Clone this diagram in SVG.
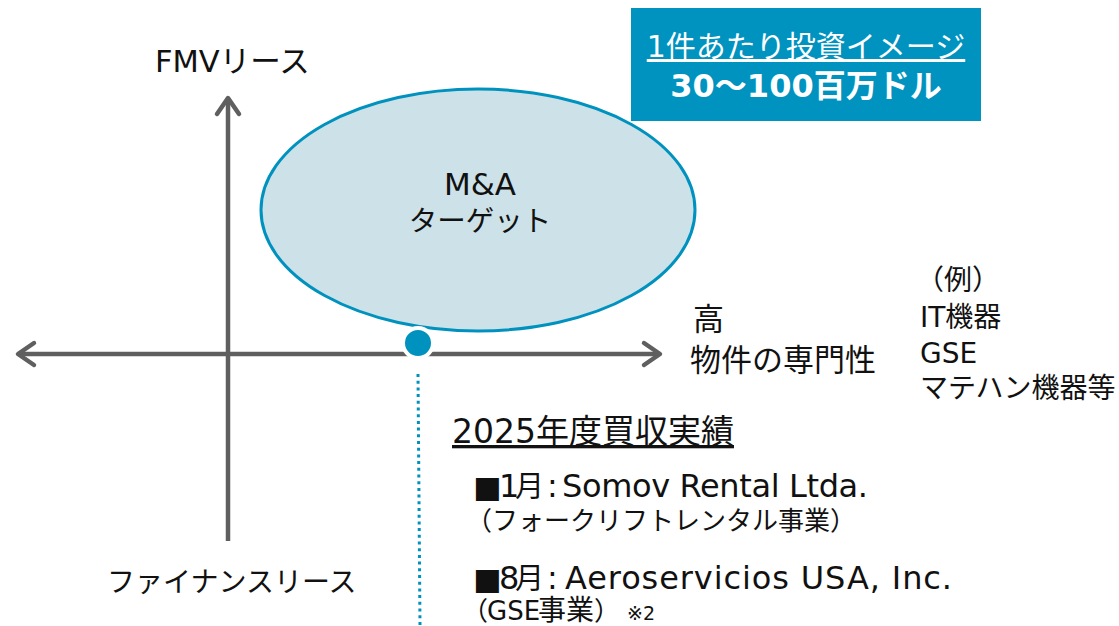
<svg xmlns="http://www.w3.org/2000/svg" width="1119" height="626" viewBox="0 0 1119 626">
<style>
text{font-family:"DejaVu Sans","Noto Sans CJK JP",sans-serif;fill:#111}
.ax{stroke:#5f5f5f;stroke-width:4.5;fill:none}
.head{stroke:#5f5f5f;stroke-width:4.5;fill:none;stroke-linecap:round;stroke-linejoin:round}
.t33{font-size:33px}
.t32{font-size:32px}
.t28{font-size:28px}
.t26{font-size:26px}
.sq{font-size:30px}
.jp{font-size:29px;font-family:"Noto Sans CJK JP",sans-serif}
.jp28{font-size:28px;font-family:"Noto Sans CJK JP",sans-serif}
.w{fill:#fff}
</style>
<rect width="1119" height="626" fill="#fff"/>
<g id="axes">
<line class="ax" x1="228" y1="100" x2="228" y2="541"/>
<polyline class="head" points="217,114 228,98 239,114"/>
<line class="ax" x1="18" y1="354" x2="659" y2="354"/>
<polyline class="head" points="34,343 18,354 34,365"/>
<polyline class="head" points="644,343 660,354 644,365"/>
</g>
<g id="target">
<ellipse cx="478" cy="210" rx="217" ry="121" fill="#cce1e8" stroke="#0092be" stroke-width="3"/>
<text x="480" y="195" text-anchor="middle" font-size="31">M&amp;A</text>
<text x="480" y="231" text-anchor="middle" font-size="28.5">ターゲット</text>
</g>
<g id="connectors">
<line x1="418" y1="374" x2="420" y2="626" stroke="#0092be" stroke-width="3" stroke-dasharray="3,3.7"/>
</g>
<g id="point">
<circle cx="418" cy="343" r="15" fill="#0092be" stroke="#fff" stroke-width="4"/>
</g>
<g id="box">
<rect x="631" y="8" width="350" height="113" fill="#0093bf"/>
<text class="w" x="806" y="57" text-anchor="middle" font-size="30" font-family="Noto Sans CJK JP, sans-serif" text-decoration="underline">1件あたり投資イメージ</text>
<text class="w" x="806" y="97" text-anchor="middle" font-size="32" font-weight="bold">30～100百万ドル</text>
</g>
<g id="labels">
<text x="155" y="72" font-size="30.5">FMVリース</text>
<text x="107" y="592" font-size="28">ファイナンスリース</text>
<text x="693" y="330" font-size="31">高</text>
<text x="690" y="371" font-size="31">物件の専門性</text>
<text class="t28" x="916" y="290">（例）</text>
<text class="t28" x="920" y="327">IT機器</text>
<text class="t28" x="920" y="363">GSE</text>
<text class="t28" x="920" y="398">マテハン機器等</text>
</g>
<g id="results">
<text class="t33" x="452" y="443" text-decoration="underline">2025年度買収実績</text>
<text class="t32" x="473" y="497"><tspan class="sq">■</tspan><tspan x="499">1</tspan><tspan class="jp" x="515">月</tspan><tspan x="547">:</tspan><tspan x="562" textLength="306" lengthAdjust="spacing">Somov Rental Ltda.</tspan></text>
<text class="t26" x="466" y="530">（フォークリフトレンタル事業）</text>
<text class="t32" x="473" y="589"><tspan class="sq">■</tspan><tspan x="499">8</tspan><tspan class="jp" x="515">月</tspan><tspan x="547">:</tspan><tspan x="565" textLength="387" lengthAdjust="spacing">Aeroservicios USA, Inc.</tspan></text>
<text class="t26" x="462" y="620">（<tspan x="487">GSE</tspan><tspan class="jp28" x="538">事業</tspan>）<tspan x="627" font-size="19">※2</tspan></text>
</g>
</svg>
